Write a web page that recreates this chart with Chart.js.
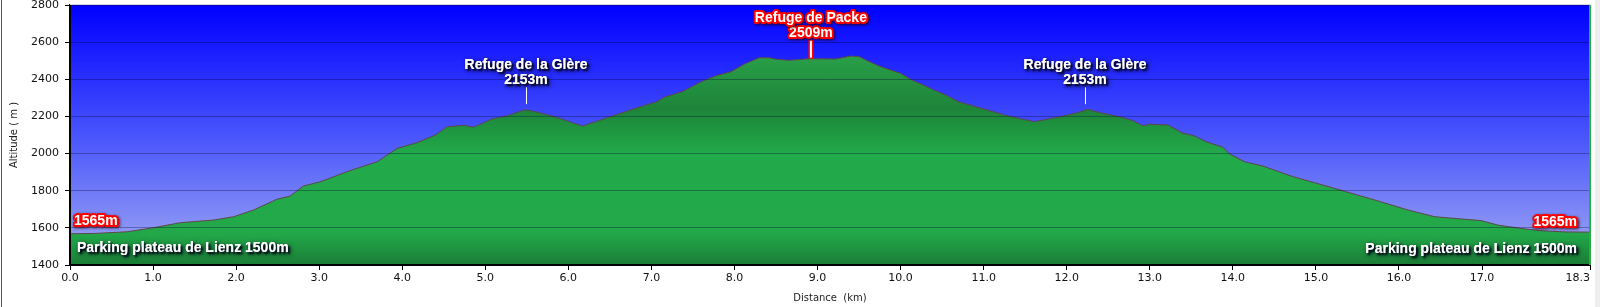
<!DOCTYPE html>
<html>
<head>
<meta charset="utf-8">
<title>Profil altimétrique</title>
<script src="https://cdn.jsdelivr.net/npm/chart.js@4.4.1/dist/chart.umd.min.js"></script>
<style>
  html, body { margin: 0; padding: 0; background: #fff; }
  #wrap { width: 1600px; height: 307px; position: relative; }
</style>
</head>
<body>
<div id="wrap"><canvas id="profileChart" width="1600" height="307"></canvas></div>
<script>
(function(){
  'use strict';

  // Profil : distance (km) / altitude (m)
  const distances = [0, 0.30, 0.69, 1.01, 1.33, 1.73, 1.97, 2.21, 2.49, 2.65, 2.81, 3.02, 3.35, 3.70, 3.94,
    4.18, 4.40, 4.54, 4.66, 4.74, 4.86, 5.08, 5.27, 5.47, 5.55, 5.83, 6.17, 6.53, 6.81, 7.07, 7.15, 7.37,
    7.59, 7.77, 7.96, 8.12, 8.30, 8.42, 8.50, 8.66, 8.90, 9.22, 9.32, 9.40, 9.50, 9.60, 9.76, 10.00, 10.12,
    10.36, 10.57, 10.69, 10.97, 11.25, 11.47, 11.61, 11.89, 12.13, 12.25, 12.43, 12.63, 12.80, 12.92, 13.00,
    13.22, 13.40, 13.52, 13.68, 13.88, 13.96, 14.14, 14.36, 14.72, 15.04, 15.36, 15.71, 16.11, 16.43, 16.99,
    17.19, 17.47, 17.71, 18.00, 18.30];
  const altitudes = [1568, 1570, 1579, 1601, 1628, 1642, 1660, 1696, 1754, 1771, 1825, 1849, 1905, 1956, 2028,
    2059, 2100, 2145, 2149, 2152, 2142, 2186, 2204, 2235, 2231, 2199, 2148, 2202, 2244, 2280, 2303, 2333,
    2385, 2418, 2441, 2482, 2516, 2516, 2508, 2502, 2511, 2509, 2518, 2525, 2522, 2500, 2468, 2432, 2400,
    2351, 2310, 2280, 2244, 2208, 2185, 2172, 2195, 2220, 2238, 2217, 2199, 2177, 2150, 2158,
    2154, 2109, 2098, 2064, 2034, 1998, 1956, 1933, 1876, 1836, 1795, 1750, 1696, 1660, 1639,
    1615, 1597, 1585, 1578, 1577];

  const xTicks = [0, 1, 2, 3, 4, 5, 6, 7, 8, 9, 10, 11, 12, 13, 14, 15, 16, 17, 18.3];
  const yTicks = [1400, 1600, 1800, 2000, 2200, 2400, 2600, 2800];

  // Points de passage
  const waypointNames = ['Refuge de la Glère', 'Refuge de Packe', 'Refuge de la Glère'];
  const waypointAlts = ['2153m', '2509m', '2153m'];
  const waypointDist = [5.49, 8.92, 12.22];
  const waypointMain = [false, true, false];
  const endAltLabel = '1565m';
  const parkingLabel = 'Parking plateau de Lienz 1500m';

  const LABEL_FONT = 'bold 14px "Liberation Sans", Arial, sans-serif';
  const TICK_FONT = '11px "DejaVu Sans", Verdana, sans-serif';

  function curveY(chart, d){
    const pts = chart.getDatasetMeta(0).data;
    const px = chart.scales.x.getPixelForValue(d);
    for (let i = 1; i < pts.length; i++) {
      if (pts[i].x >= px) {
        const a = pts[i - 1], b = pts[i];
        const t = (px - a.x) / (b.x - a.x || 1);
        return a.y + (b.y - a.y) * t;
      }
    }
    return pts[pts.length - 1].y;
  }

  function shadowText(ctx, text, x, y, align){
    ctx.save();
    ctx.font = LABEL_FONT;
    ctx.textAlign = align;
    ctx.textBaseline = 'middle';
    ctx.fillStyle = '#ffffff';
    ctx.shadowColor = 'rgba(0,0,20,1)';
    ctx.shadowBlur = 5;
    ctx.shadowOffsetX = 2;
    ctx.shadowOffsetY = 2;
    ctx.fillText(text, x, y);
    ctx.shadowBlur = 2;
    ctx.fillText(text, x, y);
    ctx.restore();
  }

  function redText(ctx, text, x, y, align){
    ctx.save();
    ctx.font = LABEL_FONT;
    ctx.textAlign = align;
    ctx.textBaseline = 'middle';
    ctx.lineJoin = 'round';
    ctx.shadowColor = 'rgba(40,0,0,0.8)';
    ctx.shadowBlur = 3;
    ctx.shadowOffsetX = 1;
    ctx.shadowOffsetY = 1;
    ctx.lineWidth = 4;
    ctx.strokeStyle = '#ff0000';
    ctx.strokeText(text, x, y);
    ctx.shadowColor = 'transparent';
    ctx.fillStyle = '#ffffff';
    ctx.fillText(text, x, y);
    ctx.restore();
  }

  // Fond dégradé bleu de la zone de tracé
  const backgroundPlugin = {
    id: 'skyBackground',
    beforeDraw(chart){
      const {ctx, chartArea: a} = chart;
      if (!a) return;
      const g = ctx.createLinearGradient(0, a.top, 0, a.bottom);
      g.addColorStop(0, 'rgb(0,0,255)');
      g.addColorStop(0.5, 'rgb(72,84,252)');
      g.addColorStop(1, 'rgb(164,172,242)');
      ctx.save();
      ctx.fillStyle = g;
      ctx.fillRect(a.left, a.top, a.right - a.left, a.bottom - a.top);
      // bande grise à droite de l'image
      ctx.fillStyle = '#eeeeee';
      ctx.fillRect(chart.width - 5, 0, 5, chart.height);
      ctx.restore();
    }
  };

  // Étiquettes, repères, cadre et graduations de l'axe X
  const labelsPlugin = {
    id: 'profileLabels',
    afterDraw(chart){
      const {ctx, chartArea: a, scales} = chart;
      ctx.save();
      // cadre haut gris et bord droit vert
      ctx.strokeStyle = '#d8d8e0';
      ctx.lineWidth = 1;
      ctx.beginPath();
      ctx.moveTo(a.left, a.top - 0.5);
      ctx.lineTo(a.right, a.top - 0.5);
      ctx.stroke();
      ctx.strokeStyle = '#22b040';
      ctx.lineWidth = 2;
      ctx.beginPath();
      ctx.moveTo(a.right, a.top);
      ctx.lineTo(a.right, a.bottom);
      ctx.stroke();
      // bord gauche de l'image
      ctx.strokeStyle = '#555';
      ctx.lineWidth = 1;
      ctx.beginPath();
      ctx.moveTo(1.5, 0);
      ctx.lineTo(1.5, chart.height);
      ctx.stroke();
      ctx.restore();

      // graduations de l'axe X
      ctx.save();
      ctx.font = TICK_FONT;
      ctx.fillStyle = '#111';
      ctx.textBaseline = 'middle';
      xTicks.forEach(function(v, i){
        const x = scales.x.getPixelForValue(v);
        ctx.textAlign = (i === xTicks.length - 1) ? 'right' : 'center';
        ctx.fillText(v.toFixed(1), x, a.bottom + 13);
      });
      ctx.restore();

      // points de passage
      waypointNames.forEach(function(name, i){
        const x = scales.x.getPixelForValue(waypointDist[i]);
        const yc = curveY(chart, waypointDist[i]);
        if (waypointMain[i]) {
          ctx.save();
          ctx.fillStyle = '#ff0000';
          ctx.fillRect(x - 2.5, yc - 19, 5, 19);
          ctx.fillStyle = '#ffffff';
          ctx.fillRect(x - 1, yc - 18, 2, 17);
          ctx.restore();
          redText(ctx, waypointAlts[i], x, yc - 26, 'center');
          redText(ctx, name, x, yc - 41, 'center');
        } else {
          ctx.save();
          ctx.strokeStyle = '#ffffff';
          ctx.lineWidth = 1;
          ctx.beginPath();
          ctx.moveTo(Math.round(x) + 0.5, yc - 6);
          ctx.lineTo(Math.round(x) + 0.5, yc - 23);
          ctx.stroke();
          ctx.restore();
          shadowText(ctx, waypointAlts[i], x, yc - 30, 'center');
          shadowText(ctx, name, x, yc - 45, 'center');
        }
      });

      // départ / arrivée
      redText(ctx, endAltLabel, a.left + 4, a.bottom - 44, 'left');
      redText(ctx, endAltLabel, a.right - 13, a.bottom - 43, 'right');
      shadowText(ctx, parkingLabel, a.left + 7, a.bottom - 17, 'left');
      shadowText(ctx, parkingLabel, a.right - 13, a.bottom - 16, 'right');
    }
  };

  function initProfileChart(){
    const el = document.getElementById('profileChart');
    if (!el || typeof Chart === 'undefined') return;
    const ctx = el.getContext('2d');

    const points = distances.map(function(d, i){ return {x: d, y: altitudes[i]}; });

    const data = {
      datasets: [{
        label: 'Altitude',
        data: points,
        borderColor: '#5c4848',
        borderWidth: 1,
        pointRadius: 0,
        tension: 0,
        fill: 'start',
        backgroundColor: function(c){
          const chart = c.chart;
          const a = chart.chartArea;
          if (!a) return '#22a84a';
          const g = chart.ctx.createLinearGradient(0, a.top, 0, a.bottom);
          g.addColorStop(0.18, '#2aa14a');
          g.addColorStop(0.40, '#1d8439');
          g.addColorStop(0.58, '#22ab4b');
          g.addColorStop(0.88, '#22a849');
          g.addColorStop(1, '#1b7c36');
          return g;
        }
      }]
    };

    const config = {
      type: 'line',
      data: data,
      options: {
        responsive: false,
        animation: false,
        devicePixelRatio: 1,
        layout: { padding: { left: 0, right: 10, top: 5, bottom: 0 } },
        plugins: {
          legend: { display: false },
          tooltip: { enabled: false }
        },
        scales: {
          x: {
            type: 'linear',
            min: 0,
            max: 18.3,
            afterBuildTicks: function(s){ s.ticks = xTicks.map(function(v){ return {value: v}; }); },
            afterFit: function(s){ s.height = 42; s.paddingLeft = 0; s.paddingRight = 0; },
            ticks: { display: false },
            grid: { drawOnChartArea: false, drawTicks: true, tickLength: 5, tickColor: '#000', tickWidth: 1, z: 1 },
            border: { color: '#000', width: 2, z: 1 },
            title: {
              display: true,
              text: 'Distance  (km)',
              color: '#222',
              font: { family: '"DejaVu Sans", Verdana, sans-serif', size: 10 },
              padding: { top: 0, bottom: 3 }
            }
          },
          y: {
            min: 1400,
            max: 2800,
            afterBuildTicks: function(s){ s.ticks = yTicks.map(function(v){ return {value: v}; }); },
            afterFit: function(s){ s.width = 70; s.paddingTop = 0; s.paddingBottom = 0; },
            ticks: {
              color: '#111',
              padding: 6,
              font: { family: '"DejaVu Sans", Verdana, sans-serif', size: 11 },
              callback: function(v){ return String(v); }
            },
            grid: { color: 'rgba(0,0,50,0.32)', lineWidth: 1, drawTicks: true, tickLength: 5, tickColor: '#000', z: 1 },
            border: { color: '#000', width: 2, z: 1 },
            title: {
              display: true,
              text: 'Altitude ( m )',
              color: '#222',
              font: { family: '"DejaVu Sans", Verdana, sans-serif', size: 10 },
              padding: { top: 8, bottom: 0 }
            }
          }
        }
      },
      plugins: [backgroundPlugin, labelsPlugin]
    };

    el.__chartInstance = new Chart(ctx, config);
  }

  if (document.readyState === 'loading') {
    document.addEventListener('DOMContentLoaded', initProfileChart);
  } else {
    initProfileChart();
  }
})();
</script>
</body>
</html>
